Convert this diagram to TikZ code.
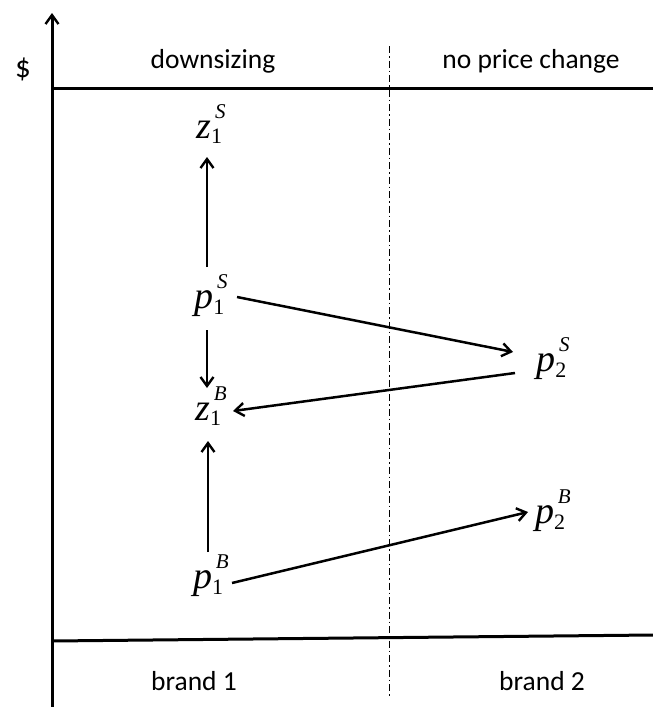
\documentclass[tikz,border=0pt]{standalone}
\usepackage{fontspec}
\setmainfont{Carlito}
\newfontfamily\tm{Liberation Serif}
\usetikzlibrary{arrows.meta}
\newcommand\sym[3]{{\tm\itshape #1}\raisebox{-0.3ex}{\rlap{\tm\fontsize{22}{22}\selectfont #2}}\hspace{0.1em}\raisebox{1.1ex}{\tm\itshape\fontsize{21}{21}\selectfont #3}}
\begin{document}
\begin{tikzpicture}[x=1pt,y=-1pt,
  axis/.style={line width=3pt},
  conn/.style={line width=2.5pt,-{Straight Barb[length=9pt,width=13pt,line width=2.4pt]}},
  lab/.style={font=\fontsize{27.5}{27.5}\selectfont},
  var/.style={font=\fontsize{38}{38}\selectfont, inner sep=0pt}]
\useasboundingbox (0,0) rectangle (653,707);
\coordinate (axb) at (52,707);
\coordinate (axt) at (52,13);
\draw[axis,-{Straight Barb[length=9pt,width=13pt,line width=2.4pt]}] (axb) -- (axt);
\coordinate (tl) at (52,88);
\coordinate (tr) at (653,88);
\draw[axis] (tl) -- (tr);
\coordinate (bl) at (52,641);
\coordinate (br) at (653,635);
\draw[axis] (bl) -- (br);
\coordinate (dt) at (389,46);
\coordinate (db) at (389,696);
\draw[line width=1pt, dash pattern=on 7pt off 3pt on 1.5pt off 3pt] (dt) -- (db);
\node[lab, font=\fontsize{31}{31}\selectfont] (dollar) at (23,69) {\$};
\node[lab] (down) at (213,61) {downsizing};
\node[lab] (npc) at (531,61) {no price change};
\node[lab] (b1) at (194,681) {brand 1};
\node[lab] (b2) at (542,681) {brand 2};
\node[var] (z1S) at (211,124) {\sym{z}{1}{S}};
\node[var] (p1S) at (211,296) {\sym{p}{1}{S}};
\node[var] (z1B) at (211,406) {\sym{z}{1}{B}};
\node[var] (p1B) at (211,576) {\sym{p}{1}{B}};
\node[var] (p2S) at (553,359) {\sym{p}{2}{S}};
\node[var] (p2B) at (553,511) {\sym{p}{2}{B}};
\draw[conn] (207,267) coordinate (a1s) -- (207,157) coordinate (a1e);
\draw[conn] (207,330) coordinate (a2s) -- (207,388) coordinate (a2e);
\draw[conn] (208,552) coordinate (a3s) -- (208,441) coordinate (a3e);
\draw[conn] (237,297) coordinate (a4s) -- (513,352) coordinate (a4e);
\draw[conn] (515,373) coordinate (a5s) -- (233,411) coordinate (a5e);
\draw[conn] (232,583) coordinate (a6s) -- (528,512) coordinate (a6e);
\end{tikzpicture}
\end{document}
